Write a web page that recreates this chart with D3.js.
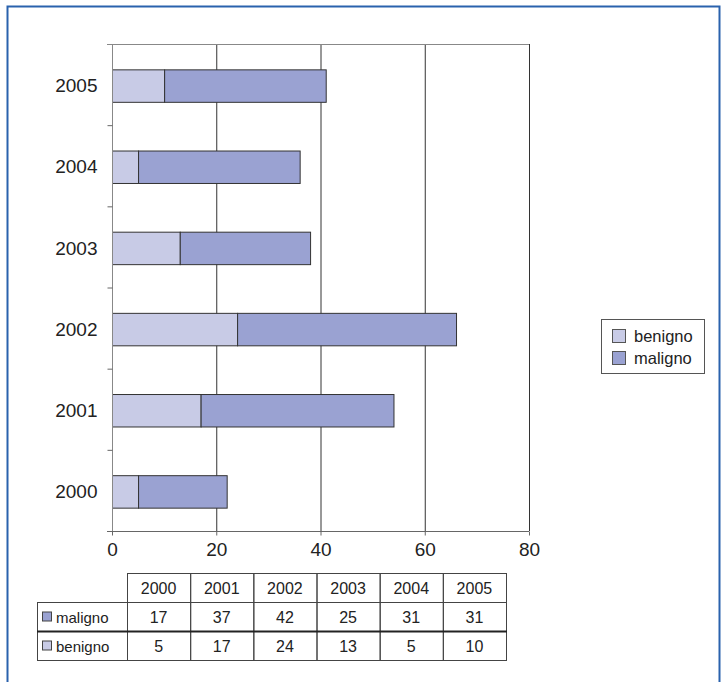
<!DOCTYPE html>
<meta charset="utf-8">
<style>
  body { margin: 0; background: #fff; }
  text { font-family: "Liberation Sans", Arial, sans-serif; fill: #222; }
</style>
<body>
<div id="chart"></div>
<script src="https://d3js.org/d3.v7.min.js"></script>
<script>
// data
var years = ["2000", "2001", "2002", "2003", "2004", "2005"];
var maligno = [17, 37, 42, 25, 31, 31];
var benigno = [5, 17, 24, 13, 5, 10];
var xTicks = [0, 20, 40, 60, 80];
var seriesNames = ["benigno", "maligno"];
var colors = { benigno: "#c8cbe6", maligno: "#9aa2d2" };

var W = 724, H = 682;
var svg = d3.select("#chart").append("svg")
  .attr("width", W).attr("height", H);

// outer frame (no bottom edge)
svg.append("path")
  .attr("d", "M7.5," + H + " V6.5 H719.5 V" + H)
  .attr("fill", "none").attr("stroke", "#2a62ad").attr("stroke-width", 2);

// plot area
var pLeft = 112, pRight = 529, pTop = 44, pBottom = 531;

var x = d3.scaleLinear().domain([0, 80]).range([pLeft, pRight]);
var y = d3.scaleBand().domain(years.slice().reverse()).range([pTop, pBottom]).padding(0);

// gridlines
svg.append("g").selectAll("line")
  .data(xTicks.slice(1))
  .enter().append("line")
  .attr("x1", d => x(d) + 0.5).attr("x2", d => x(d) + 0.5)
  .attr("y1", pTop).attr("y2", pBottom)
  .attr("stroke", "#333").attr("stroke-width", 1);

// top edge of plot
svg.append("line")
  .attr("x1", pLeft - 5).attr("x2", pRight)
  .attr("y1", pTop + 0.5).attr("y2", pTop + 0.5)
  .attr("stroke", "#888");

// stacked bars
var rows = years.map(function (yr, i) {
  return { year: yr, benigno: benigno[i], maligno: maligno[i] };
});
var stack = d3.stack().keys(seriesNames)(rows);
var barH = y.bandwidth() * 0.4;

svg.append("g").selectAll("g")
  .data(stack)
  .enter().append("g")
  .attr("fill", d => colors[d.key])
  .selectAll("rect")
  .data(d => d)
  .enter().append("rect")
  .attr("x", d => x(d[0]) + 0.5)
  .attr("y", d => y(d.data.year) + (y.bandwidth() - barH) / 2 + 1.5)
  .attr("width", d => x(d[1]) - x(d[0]))
  .attr("height", barH)
  .attr("stroke", "#333").attr("stroke-width", 1);

// y axis
var yAxis = svg.append("g")
  .attr("transform", "translate(" + (pLeft + 0.5) + ",0)");
yAxis.append("line")
  .attr("y1", pTop).attr("y2", pBottom)
  .attr("stroke", "#888");
yAxis.selectAll("line.tick")
  .data(years.slice(1))
  .enter().append("line")
  .attr("class", "tick")
  .attr("x1", -5).attr("x2", 0)
  .attr("y1", d => y(d) + y.bandwidth() + 0.5)
  .attr("y2", d => y(d) + y.bandwidth() + 0.5)
  .attr("stroke", "#666");
yAxis.selectAll("text")
  .data(years)
  .enter().append("text")
  .attr("x", -15)
  .attr("y", d => y(d) + y.bandwidth() / 2 + 1)
  .attr("dy", "0.35em")
  .attr("text-anchor", "end")
  .style("font-size", "19px")
  .text(d => d);

// x axis
var xAxis = svg.append("g")
  .attr("transform", "translate(0," + (pBottom + 0.5) + ")")
  .call(d3.axisBottom(x).tickValues(xTicks).tickSize(4).tickSizeOuter(0));
xAxis.select(".domain").attr("stroke", "#666")
  .attr("d", "M" + (pLeft - 5) + ",0H" + pRight);
xAxis.selectAll(".tick line").attr("stroke", "#666");
xAxis.selectAll(".tick text")
  .attr("y", 11)
  .style("font-size", "19px")
  .style("font-family", "'Liberation Sans', Arial, sans-serif")
  .attr("fill", "#222");

// legend
var lg = svg.append("g").attr("transform", "translate(601,319)");
lg.append("rect")
  .attr("x", 0.5).attr("y", 0.5).attr("width", 103).attr("height", 54)
  .attr("fill", "#fff").attr("stroke", "#555");
seriesNames.forEach(function (s, i) {
  lg.append("rect")
    .attr("x", 11.5).attr("y", 10.5 + i * 22).attr("width", 13).attr("height", 13)
    .attr("fill", colors[s]).attr("stroke", "#555");
  lg.append("text")
    .attr("x", 33).attr("y", 17 + i * 22).attr("dy", "0.35em")
    .style("font-size", "16.5px")
    .text(s);
});

// data table
var tLeft = 37, tCol0 = 127, colW = (506 - 127) / 6, rowH = 29, tTop = 573;
var tbl = svg.append("g");
var tableRows = [
  { name: "maligno", vals: maligno },
  { name: "benigno", vals: benigno }
];
// header cells
years.forEach(function (yr, i) {
  tbl.append("rect")
    .attr("x", tCol0 + i * colW + 0.5).attr("y", tTop + 0.5)
    .attr("width", colW).attr("height", rowH)
    .attr("fill", "none").attr("stroke", "#444");
  tbl.append("text")
    .attr("x", tCol0 + (i + 0.5) * colW).attr("y", tTop + rowH / 2 + 1)
    .attr("dy", "0.35em").attr("text-anchor", "middle")
    .style("font-size", "16px").text(yr);
});
tableRows.forEach(function (r, j) {
  var ry = tTop + rowH * (j + 1);
  tbl.append("rect")
    .attr("x", tLeft + 0.5).attr("y", ry + 0.5)
    .attr("width", tCol0 - tLeft).attr("height", rowH)
    .attr("fill", "none").attr("stroke", "#444");
  tbl.append("rect")
    .attr("x", tLeft + 5.5).attr("y", ry + rowH / 2 - 4.5)
    .attr("width", 9).attr("height", 9)
    .attr("fill", colors[r.name]).attr("stroke", "#444");
  tbl.append("text")
    .attr("x", tLeft + 19).attr("y", ry + rowH / 2 + 1)
    .attr("dy", "0.35em").style("font-size", "15px").text(r.name);
  r.vals.forEach(function (v, i) {
    tbl.append("rect")
      .attr("x", tCol0 + i * colW + 0.5).attr("y", ry + 0.5)
      .attr("width", colW).attr("height", rowH)
      .attr("fill", "none").attr("stroke", "#444");
    tbl.append("text")
      .attr("x", tCol0 + (i + 0.5) * colW).attr("y", ry + rowH / 2 + 1)
      .attr("dy", "0.35em").attr("text-anchor", "middle")
      .style("font-size", "16px").text(v);
  });
});
// heavier separator between the two data rows
tbl.append("line")
  .attr("x1", tLeft).attr("x2", 506 + 1)
  .attr("y1", tTop + rowH * 2 + 0.5).attr("y2", tTop + rowH * 2 + 0.5)
  .attr("stroke", "#222").attr("stroke-width", 2);
</script>
</body>
